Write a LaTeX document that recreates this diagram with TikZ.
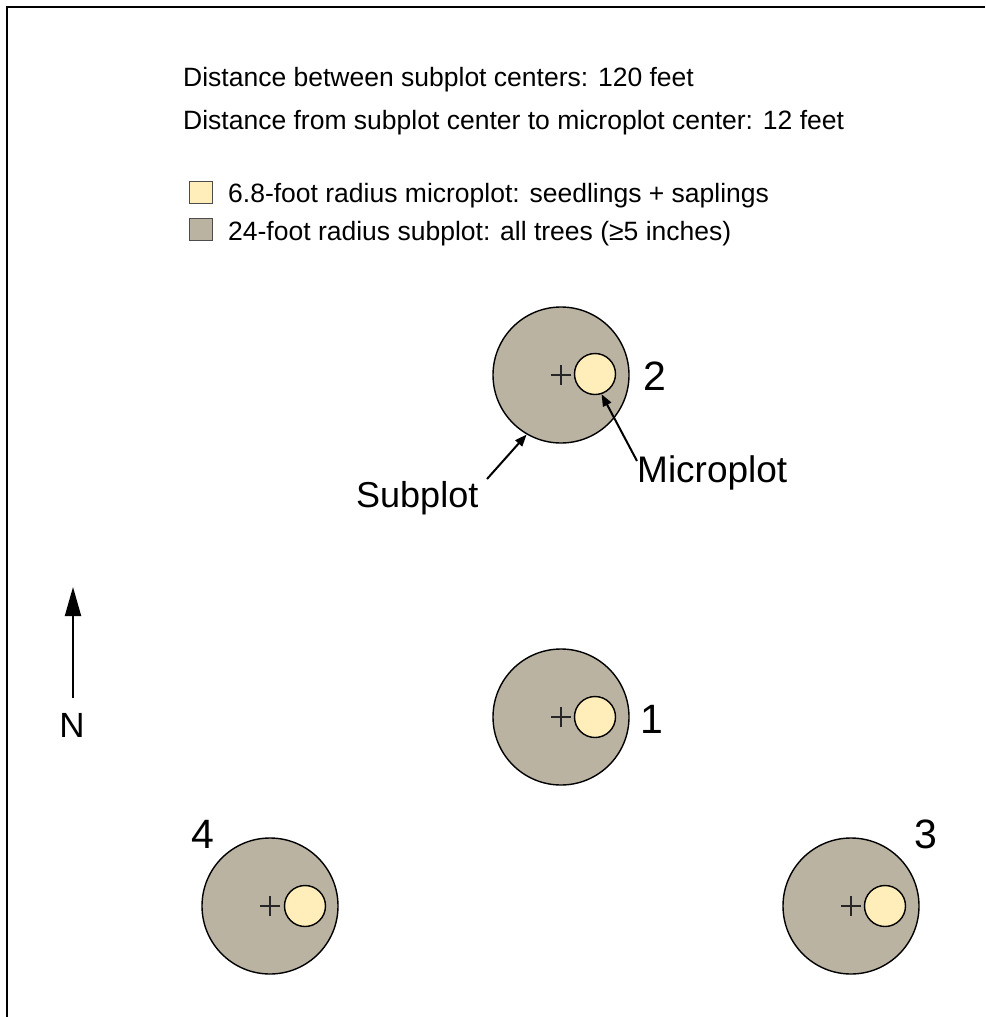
\documentclass[tikz,border=0pt]{standalone}
\usepackage{fontspec}
\setmainfont{Liberation Sans}
\usetikzlibrary{arrows.meta}
\definecolor{subfill}{HTML}{BBB3A2}
\definecolor{microfill}{HTML}{FFEEBA}
\begin{document}
\begin{tikzpicture}[x=1pt,y=-1pt,
  subplot/.style={circle, draw=black, line width=1.4pt, fill=subfill, minimum size=136pt, inner sep=0pt},
  microplot/.style={circle, draw=black, line width=1.4pt, fill=microfill, minimum size=41pt, inner sep=0pt},
  plusmark/.style={line width=1.3pt, draw=black!85},
  numlabel/.style={font=\fontsize{41}{41}\selectfont, inner sep=0pt},
  callout/.style={font=\fontsize{36}{36}\selectfont, inner sep=0pt, anchor=base west},
  info/.style={font=\fontsize{26.5}{26.5}\selectfont, anchor=base west, inner sep=0pt},
  legendbox/.style={draw=black!70, line width=0.8pt, minimum width=23pt, minimum height=22pt, inner sep=0pt},
  pointer/.style={line width=2pt, -{Triangle[length=12pt,width=9pt]}},
  northarrow/.style={line width=2pt, -{Triangle[length=29pt,width=16pt]}}
]
\useasboundingbox (0,0) rectangle (985,1017);
\fill[white] (0,0) rectangle (985,1017);
% frame (top and left edges)
\draw[line width=2pt] (6.5,1017) -- (6.5,6.5) -- (985,6.5);

% header text
\node[info] (t1) at (183,86) {Distance between subplot centers: 120 feet};
\node[info] (t2) at (183,129) {Distance from subplot center to microplot center: 12 feet};

% legend
\node[legendbox, fill=microfill] (lg1) at (201,192) {};
\node[legendbox, fill=subfill] (lg2) at (201,229.5) {};
\node[info] (lt1) at (228,202) {6.8-foot radius microplot: seedlings + saplings};
\node[info] (lt2) at (228,240) {24-foot radius subplot: all trees (≥5 inches)};

% subplots
\node[subplot] (s2) at (561,375) {};
\node[subplot] (s1) at (561,717) {};
\node[subplot] (s4) at (270,906) {};
\node[subplot] (s3) at (851,906) {};

% centre marks
\foreach \c in {s1,s2,s3,s4}{
  \draw[plusmark] (\c.center) ++(-10,0) -- ++(20,0);
  \draw[plusmark] (\c.center) ++(0,-10) -- ++(0,20);
}

% microplots
\node[microplot] (m2) at (595,374) {};
\node[microplot] (m1) at (595,717) {};
\node[microplot] (m4) at (305,906) {};
\node[microplot] (m3) at (885,906) {};

% subplot numbers
\node[numlabel] (n2) at (655,376) {2};
\node[numlabel] (n1) at (652,719) {1};
\node[numlabel] (n4) at (203,834) {4};
\node[numlabel] (n3) at (926,834) {3};

% callouts
\node[callout] (subtxt) at (356,507) {Subplot};
\node[callout, font=\fontsize{37}{37}\selectfont] (mictxt) at (637,482) {Microplot};
\coordinate (subtail) at (487,479);
\coordinate (mictail) at (637,461);
\draw[pointer] (subtail) -- (s2.240);
\draw[pointer] (mictail) -- (m2.288);

% north arrow
\node[font=\fontsize{35}{35}\selectfont, inner sep=0pt] (N) at (72,725) {N};
\coordinate (ntail) at (73,698);
\coordinate (nhead) at (73,587);
\draw[northarrow] (ntail) -- (nhead);
\end{tikzpicture}
\end{document}
